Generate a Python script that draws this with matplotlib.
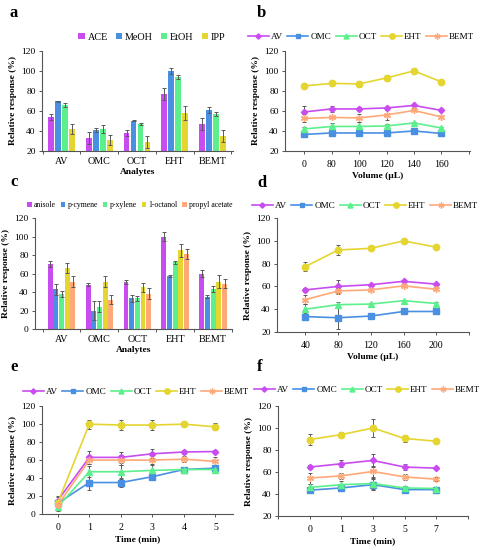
import matplotlib
matplotlib.use("Agg")
import matplotlib.pyplot as plt
from matplotlib.lines import Line2D
import numpy as np

plt.rcParams["font.family"] = ["Liberation Serif", "DejaVu Serif"]

analytes = ["AV", "OMC", "OCT", "EHT", "BEMT"]

# panel a: solvents
solvents = ["ACE", "MeOH", "EtOH", "IPP"]
a_vals = [
    [54, 32.5, 38, 77, 47],
    [69.5, 41, 50, 100, 61],
    [65.5, 42, 47, 94, 57],
    [42, 31, 29, 58, 35],
]
a_err = [
    [3, 6, 3, 6, 6],
    [0.5, 2, 0.5, 3, 3],
    [2, 4, 1, 2, 2],
    [5, 5, 6, 7, 6],
]

# panel c: extraction solvents
extractants = ["anisole", "p-cymene", "p-xylene", "1-octanol", "propyl acetate"]
c_vals = [
    [70, 48, 50.5, 100, 60],
    [43, 20, 33, 57.5, 35],
    [38, 24, 33, 72, 43],
    [66, 51, 45, 85, 51],
    [51, 31.5, 38, 81, 49],
]
c_err = [
    [3, 2, 2, 5, 4],
    [6, 10, 4, 1, 2],
    [3, 6, 3, 2, 3],
    [5, 6, 5, 7, 7],
    [6, 5, 6, 5, 5],
]

# panel b: volume
b_x = ["0", "80", "100", "120", "140", "160"]
b_vals = {
    "AV": [59, 62, 62, 63, 65.5, 60.5],
    "OMC": [36.5, 38, 38, 38, 40, 37.5],
    "OCT": [42, 44.5, 44.5, 45, 48, 43],
    "EHT": [85, 87.5, 87, 93, 100, 89],
    "BEMT": [52.5, 53.5, 53, 56, 60.5, 54],
}
b_err = {
    "AV": [6, 3, 2, 1, 1, 1],
    "OMC": [2, 1, 1, 1, 1, 1],
    "OCT": [2, 3, 4, 2, 1, 1],
    "EHT": [2.5, 1, 3, 3, 1, 1],
    "BEMT": [4, 1, 4, 5, 1, 1],
}

# panel d: volume
d_x = ["40", "80", "120", "160", "200"]
d_vals = {
    "AV": [57, 60, 61.5, 64.5, 62],
    "OMC": [33.5, 32.5, 34, 38, 38],
    "OCT": [40, 44, 44.5, 47.5, 45],
    "EHT": [77.5, 92, 93.5, 100, 94.5],
    "BEMT": [48.5, 56, 57, 60.5, 57.5],
}
d_err = {
    "AV": [2, 6, 1, 1, 1],
    "OMC": [3, 10, 1, 1, 1],
    "OCT": [5, 2, 1, 1, 1],
    "EHT": [4, 4, 1, 2, 1],
    "BEMT": [4, 3, 1, 1, 1],
}

# panel e: time
e_x = ["0", "1", "2", "3", "4", "5"]
e_vals = {
    "AV": [15, 63, 63, 67, 69, 69.5],
    "OMC": [12, 35, 35, 41.5, 49.5, 51],
    "OCT": [8, 47, 47, 48.5, 49.5, 49.5],
    "EHT": [12.5, 100, 99, 99, 100, 97],
    "BEMT": [10, 60, 60, 60, 61, 58.5],
}
e_err = {
    "AV": [5, 7, 6, 5, 2, 2],
    "OMC": [4, 8, 5, 3, 2, 3],
    "OCT": [5, 6, 8, 7, 1, 1],
    "EHT": [6, 5, 6, 6, 2, 4],
    "BEMT": [5, 4, 6, 6, 3, 5],
}

# panel f: time
f_x = ["0", "1", "3", "5", "7"]
f_vals = {
    "AV": [64.5, 67.5, 70.5, 64.5, 63.5],
    "OMC": [43.5, 45.5, 48.5, 44, 44],
    "OCT": [46, 48.5, 49.5, 45.5, 45],
    "EHT": [89.5, 94, 100, 90.5, 88],
    "BEMT": [54.5, 56.5, 60.5, 55.5, 53.5],
}
f_err = {
    "AV": [2, 3, 6, 2.5, 1],
    "OMC": [1, 1, 5, 1, 1],
    "OCT": [3, 3, 5, 2, 1],
    "EHT": [5, 2, 8, 3, 1],
    "BEMT": [5, 3, 5, 3, 2],
}

bar_colors = ["#C94CF0", "#4A90E2", "#5CF08C", "#E5D530", "#FFA878"]
series_style = {
    "AV": ("#C94CF0", "D", 3.2),
    "OMC": ("#4A90E2", "s", 4.2),
    "OCT": ("#5CF08C", "^", 4.2),
    "EHT": ("#E5D530", "o", 4.6),
    "BEMT": ("#FFA878", (6, 2, 0), 5.0),
}
err_color = "#5a5a5a"
fs = 6.8


def style_axes(ax, ylim, yticks):
    ax.spines["top"].set_visible(False)
    ax.spines["right"].set_visible(False)
    for s in ("left", "bottom"):
        ax.spines[s].set_color("#555555")
        ax.spines[s].set_linewidth(0.8)
    ax.set_ylim(*ylim)
    ax.set_yticks(yticks)
    ax.tick_params(axis="both", labelsize=fs, length=2.5, width=0.7,
                   color="#555555", pad=2)
    ax.set_ylabel("Relative response (%)", fontsize=fs, fontweight="bold", labelpad=3)


def bar_panel(rect, names, vals, errs, ylim, yticks, xlim, width, pitch, leg_fs, leg_y, leg_x, colsp):
    ax = fig.add_axes(rect)
    x = np.arange(len(analytes))
    n = len(names)
    for i, name in enumerate(names):
        off = (i - (n - 1) / 2) * pitch
        ax.bar(x + off, vals[i], width, color=bar_colors[i], label=name,
               yerr=errs[i], error_kw=dict(ecolor=err_color, elinewidth=0.7,
                                           capsize=1.5, capthick=0.7))
    ax.set_xlim(*xlim)
    style_axes(ax, ylim, yticks)
    ax.set_xticks(np.arange(-0.5, len(analytes), 1.0))
    ax.set_xticklabels([])
    ax.set_xticks(x, minor=True)
    ax.set_xticklabels(analytes, minor=True, fontsize=fs + 0.5)
    ax.tick_params(axis="x", which="minor", length=0, pad=4)
    ax.set_xlabel("Analytes", fontsize=fs, fontweight="bold", labelpad=2)
    ax.legend(loc="center", bbox_to_anchor=(leg_x, leg_y), bbox_transform=fig.transFigure,
              ncol=n, frameon=False, fontsize=leg_fs, handlelength=0.6, handleheight=0.6,
              handletextpad=0.3, columnspacing=colsp, borderaxespad=0)
    return ax


def line_panel(rect, xlabels, vals, errs, ylim, yticks, xlim, xlabel, leg_y, leg_x):
    ax = fig.add_axes(rect)
    x = np.arange(len(xlabels))
    handles = []
    for name in analytes:
        col, mk, ms = series_style[name]
        ax.errorbar(x, vals[name], yerr=errs[name], color=col, marker=mk,
                    markersize=ms, markeredgecolor=col, linewidth=1.2,
                    ecolor=err_color, elinewidth=0.7, capsize=1.5, capthick=0.7)
        handles.append(Line2D([], [], color=col, marker=mk, markersize=ms * 0.85,
                              markeredgecolor=col, linewidth=1.2, label=name))
    ax.set_xlim(*xlim)
    style_axes(ax, ylim, yticks)
    lo = int(np.floor(xlim[0])) if xlim[0] <= -1 else 0
    ticks = list(range(lo, int(np.floor(xlim[1])) + 1))
    ax.set_xticks(ticks)
    ax.set_xticklabels([xlabels[t] if 0 <= t < len(xlabels) else "" for t in ticks])
    ax.tick_params(axis="x", pad=4, labelsize=fs + 0.3)
    ax.set_xlabel(xlabel, fontsize=fs, fontweight="bold", labelpad=2)
    ax.legend(handles=handles, loc="center", bbox_to_anchor=(leg_x, leg_y),
              bbox_transform=fig.transFigure, ncol=5, frameon=False, fontsize=6.6,
              handlelength=2.3, handletextpad=0.2, columnspacing=0.5, borderaxespad=0)
    return ax


fig = plt.figure(figsize=(4.83, 5.5), dpi=100)

bar_panel([0.087, 0.7255, 0.395, 0.182], solvents, a_vals, a_err, (20, 120),
          range(20, 121, 20), (-0.52, 4.54), 0.15, 0.185, fs + 0.5, 1 - 37 / 550, 152 / 483, 0.8)
line_panel([0.590, 0.7255, 0.383, 0.182], b_x, b_vals, b_err, (20, 120),
           range(20, 121, 20), (-0.7, 6.04), "Volume (µL)", 1 - 37 / 550, 361 / 483)
bar_panel([0.0725, 0.4018, 0.408, 0.2018], extractants, c_vals, c_err, (0, 120),
          range(0, 121, 20), (-0.7, 4.5), 0.13, 0.15, 5.6, 1 - 205 / 550, 130 / 483, 0.6)
line_panel([0.5735, 0.3964, 0.3975, 0.207], d_x, d_vals, d_err, (20, 120),
           range(20, 121, 20), (-0.87, 5.0), "Volume (µL)", 1 - 206 / 550, 365 / 483)
line_panel([0.087, 0.0655, 0.395, 0.196], e_x, e_vals, e_err, (0, 120),
           range(0, 121, 20), (-0.5, 5.55), "Time (min)", 1 - 392 / 550, 136 / 483)
line_panel([0.5756, 0.0618, 0.393, 0.2], f_x, f_vals, f_err, (20, 120),
           range(20, 121, 20), (-1.0, 5.0), "Time (min)", 1 - 390 / 550, 367 / 483)

for lbl, px, py in [("a", 10, 13), ("b", 257, 13), ("c", 10, 182),
                    ("d", 257, 183), ("e", 10, 367), ("f", 257, 367)]:
    fig.text(px / 483, 1 - py / 550, lbl, fontsize=12, fontweight="bold",
             ha="left", va="center")

fig.savefig("out.png", dpi=100)
